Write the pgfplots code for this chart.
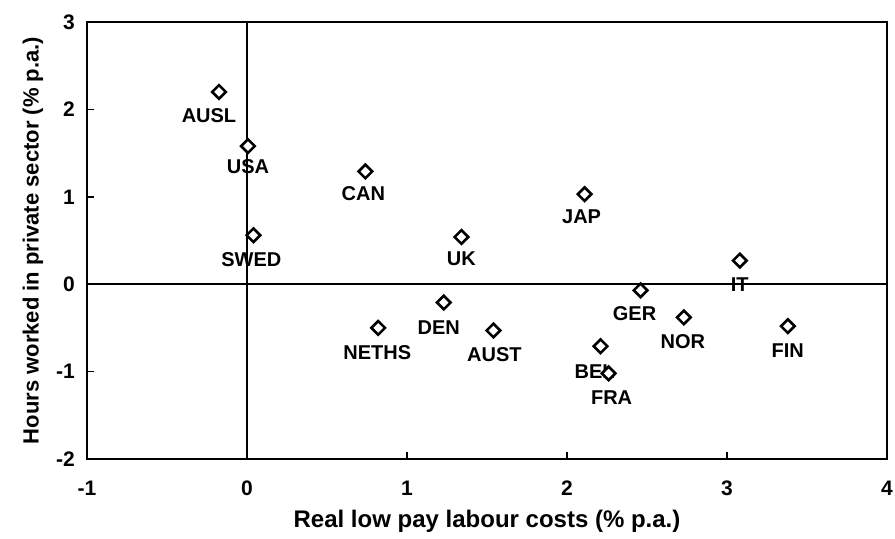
\documentclass[border=0pt]{standalone}
\usepackage{pgfplots}
\pgfplotsset{compat=1.18}
\usetikzlibrary{calc}
\usepackage{fontspec}
\setmainfont{Liberation Sans}
\begin{document}
\begin{tikzpicture}
\begin{axis}[
  name=main,
  width=800pt, height=437pt, scale only axis,
  xmin=-1, xmax=4, ymin=-2, ymax=3,
  xtick={-1,0,1,2,3,4}, ytick={-2,-1,0,1,2,3},
  tick align=inside, xtick pos=bottom, ytick pos=left,
  major tick length=7pt,
  axis line style={line width=2pt},
  every tick/.style={line width=1.4pt, black},
  /pgf/number format/assume math mode=true,
  ticklabel style={font=\fontsize{21}{24}\selectfont\bfseries, inner sep=0pt},
  xticklabel style={anchor=north, yshift=-22pt},
  yticklabel style={anchor=east, xshift=-12pt},
  xlabel={Real low pay labour costs (\% p.a.)},
  ylabel={Hours worked in private sector (\% p.a.)},
  xlabel style={font=\fontsize{24}{28}\selectfont\bfseries, at={(axis description cs:0.5,0)}, anchor=center, yshift=-62pt, inner sep=0pt},
  ylabel style={font=\fontsize{22}{26}\selectfont\bfseries, at={(axis description cs:0,0.5)}, anchor=center, yshift=54pt, inner sep=0pt},
  clip=false,
]
\draw[line width=1.6pt] (axis cs:0,-2) -- (axis cs:0,3);
\draw[line width=2pt] (axis cs:-1,0) -- (axis cs:4,0);
\addplot[only marks, mark=square*, mark size=4.8pt,
  mark options={fill=white, draw=black, line width=2.6pt, rotate=45},
  point meta=explicit symbolic,
  visualization depends on={value \thisrow{dx} \as \dx},
  visualization depends on={value \thisrow{dy} \as \dy},
  nodes near coords,
  nodes near coords style={anchor=center, font=\fontsize{20}{24}\selectfont\bfseries,
    xshift=\dx pt, yshift=-\dy pt, inner sep=0pt},
] table[x=x, y=y, meta=label] {
x      y      label  dx   dy
-0.175 2.20   AUSL   -10  24
0.006  1.58   USA    0    21
0.74   1.29   CAN    -2   22
0.04   0.56   SWED   -2   24
2.11   1.03   JAP    -3   23
1.34   0.54   UK     0    22
3.08   0.27   IT     0    24
2.46   -0.07  GER    -6   23
1.23   -0.21  DEN    -5   25
0.82   -0.50  NETHS  -1   25
1.54   -0.53  AUST   1    24
2.73   -0.38  NOR    -1   24
3.38   -0.48  FIN    0    24
2.21   -0.71  BEL    -6   25
2.26   -1.02  FRA    3    24
};
\end{axis}
\pgfresetboundingbox
\path ($(main.south west)+(-87pt,-79pt)$) rectangle ($(main.north east)+(8pt,22pt)$);
\end{tikzpicture}
\end{document}
